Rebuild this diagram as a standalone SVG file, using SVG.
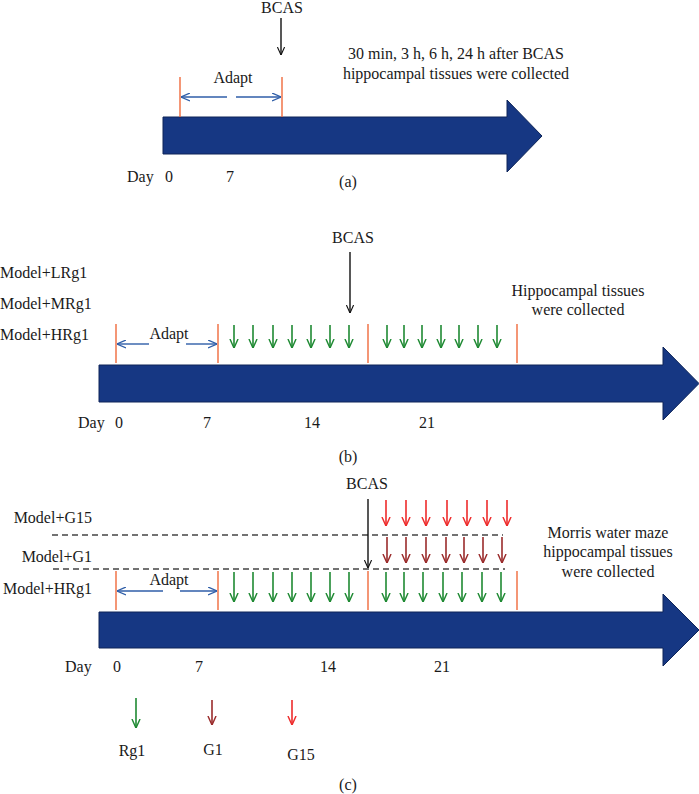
<svg xmlns="http://www.w3.org/2000/svg" width="699" height="794" viewBox="0 0 699 794">
<style>
text{font-family:"Liberation Serif","Times New Roman",serif;font-size:16px;fill:#1a1a1a}
.c{text-anchor:middle}
.e{text-anchor:end}
.big{fill:#163783;stroke:#0e2558;stroke-width:1}
.or{stroke:#f06a3c;stroke-width:1.4}
.bl{stroke:#2f5ea8;stroke-width:1.4;fill:none}
.bk{stroke:#111;stroke-width:1.4}
.gr{stroke:#1f8a33;stroke-width:1.6}
.rd{stroke:#ee2b2b;stroke-width:1.6}
.dr{stroke:#9a2b2b;stroke-width:1.6}
.da{stroke:#444;stroke-width:1.4;stroke-dasharray:6 4;fill:none}
</style>
<defs>
<marker id="mb" viewBox="0 0 10 10" refX="10" refY="5" markerWidth="9" markerHeight="9" markerUnits="userSpaceOnUse" orient="auto-start-reverse"><path d="M0,0.5 L10,5 L0,9.5" fill="none" stroke="#2f5ea8" stroke-width="1.4"/></marker>
<marker id="mk" viewBox="0 0 10 10" refX="10" refY="5" markerWidth="8" markerHeight="9" markerUnits="userSpaceOnUse" orient="auto"><path d="M0,0.5 L10,5 L0,9.5" fill="none" stroke="#111" stroke-width="1.4"/></marker>
<marker id="mg" viewBox="0 0 10 10" refX="10" refY="5" markerWidth="9" markerHeight="10" markerUnits="userSpaceOnUse" orient="auto"><path d="M0,0.5 L10,5 L0,9.5" fill="none" stroke="#1f8a33" stroke-width="1.6"/></marker>
<marker id="mr" viewBox="0 0 10 10" refX="10" refY="5" markerWidth="9" markerHeight="10" markerUnits="userSpaceOnUse" orient="auto"><path d="M0,0.5 L10,5 L0,9.5" fill="none" stroke="#ee2b2b" stroke-width="1.6"/></marker>
<marker id="md" viewBox="0 0 10 10" refX="10" refY="5" markerWidth="9" markerHeight="10" markerUnits="userSpaceOnUse" orient="auto"><path d="M0,0.5 L10,5 L0,9.5" fill="none" stroke="#9a2b2b" stroke-width="1.6"/></marker>
</defs>

<!-- Panel (a) -->
<g id="panel-a">
<polygon class="big" points="163,117 507,117 507,100 542,136 507,172 507,154 163,154"/>
<text class="c" x="282" y="13">BCAS</text>
<text class="c" x="233" y="83">Adapt</text>
<text class="c" x="456" y="59">30 min, 3 h, 6 h, 24 h after BCAS</text>
<text class="c" x="456" y="79">hippocampal tissues were collected</text>
<text x="127" y="182">Day</text>
<text class="c" x="169" y="182">0</text>
<text class="c" x="230" y="182">7</text>
<text class="c" x="348" y="187">(a)</text>
</g>

<!-- Panel (b) -->
<g id="panel-b">
<polygon class="big" points="99,365 663,365 663,347 699,383.5 663,420 663,402 99,402"/>
<text x="0" y="278">Model+LRg1</text>
<text x="0" y="309">Model+MRg1</text>
<text x="0" y="340">Model+HRg1</text>
<text class="c" x="353" y="243">BCAS</text>
<text class="c" x="169" y="339">Adapt</text>
<text class="c" x="578" y="296">Hippocampal tissues</text>
<text class="c" x="578" y="315">were collected</text>
<text x="78" y="428">Day</text>
<text class="c" x="119" y="428">0</text>
<text class="c" x="207" y="428">7</text>
<text class="c" x="312" y="428">14</text>
<text class="c" x="427" y="428">21</text>
<text class="c" x="348" y="462">(b)</text>
</g>

<!-- Panel (c) -->
<g id="panel-c">
<polygon class="big" points="99,612 663,612 663,594 699,630 663,666 663,648 99,648"/>
<text class="e" x="92" y="523">Model+G15</text>
<text class="e" x="92" y="562">Model+G1</text>
<text class="e" x="92" y="594">Model+HRg1</text>
<text class="c" x="367" y="489">BCAS</text>
<text class="c" x="169" y="585">Adapt</text>
<text class="c" x="608" y="538">Morris water maze</text>
<text class="c" x="608" y="557">hippocampal tissues</text>
<text class="c" x="608" y="577">were collected</text>
<text x="65" y="672">Day</text>
<text class="c" x="117" y="672">0</text>
<text class="c" x="199" y="672">7</text>
<text class="c" x="328" y="672">14</text>
<text class="c" x="442" y="672">21</text>
<text class="c" x="132" y="756">Rg1</text>
<text class="c" x="213" y="755">G1</text>
<text class="c" x="301" y="760">G15</text>
<text class="c" x="348" y="790">(c)</text>
</g>

<!-- Connectors -->
<g id="connectors">
<!-- (a) -->
<line class="bk" x1="281" y1="18" x2="281" y2="55" marker-end="url(#mk)"/>
<line class="or" x1="180" y1="77" x2="180" y2="117"/>
<line class="or" x1="282" y1="77" x2="282" y2="117"/>
<line class="bl" x1="227" y1="97" x2="181" y2="97" marker-end="url(#mb)"/>
<line class="bl" x1="236" y1="97" x2="281" y2="97" marker-end="url(#mb)"/>
<!-- (b) -->
<line class="bk" x1="350" y1="252" x2="350" y2="313" marker-end="url(#mk)"/>
<line class="or" x1="116" y1="324" x2="116" y2="363"/>
<line class="or" x1="218" y1="324" x2="218" y2="363"/>
<line class="or" x1="368" y1="324" x2="368" y2="363"/>
<line class="or" x1="517" y1="324" x2="517" y2="363"/>
<line class="bl" x1="149" y1="344" x2="117" y2="344" marker-end="url(#mb)"/>
<line class="bl" x1="186" y1="344" x2="217" y2="344" marker-end="url(#mb)"/>
<g marker-end="url(#mg)">
<line class="gr" x1="234" y1="325" x2="234" y2="348"/>
<line class="gr" x1="253" y1="325" x2="253" y2="348"/>
<line class="gr" x1="273" y1="325" x2="273" y2="348"/>
<line class="gr" x1="292" y1="325" x2="292" y2="348"/>
<line class="gr" x1="311" y1="325" x2="311" y2="348"/>
<line class="gr" x1="330" y1="325" x2="330" y2="348"/>
<line class="gr" x1="349" y1="325" x2="349" y2="348"/>
<line class="gr" x1="387" y1="325" x2="387" y2="348"/>
<line class="gr" x1="404" y1="325" x2="404" y2="348"/>
<line class="gr" x1="422" y1="325" x2="422" y2="348"/>
<line class="gr" x1="441" y1="325" x2="441" y2="348"/>
<line class="gr" x1="459" y1="325" x2="459" y2="348"/>
<line class="gr" x1="478" y1="325" x2="478" y2="348"/>
<line class="gr" x1="497" y1="325" x2="497" y2="348"/>
</g>
<!-- (c) -->
<line class="da" x1="52" y1="535" x2="503" y2="535"/>
<line class="da" x1="53" y1="569" x2="505" y2="569"/>
<line class="bk" x1="368" y1="499" x2="368" y2="568" marker-end="url(#mk)"/>
<line class="or" x1="116" y1="571" x2="116" y2="610"/>
<line class="or" x1="218" y1="571" x2="218" y2="610"/>
<line class="or" x1="368" y1="571" x2="368" y2="610"/>
<line class="or" x1="517" y1="571" x2="517" y2="610"/>
<line class="bl" x1="163" y1="591" x2="117" y2="591" marker-end="url(#mb)"/>
<line class="bl" x1="180" y1="591" x2="217" y2="591" marker-end="url(#mb)"/>
<g marker-end="url(#mg)">
<line class="gr" x1="234" y1="572" x2="234" y2="602"/>
<line class="gr" x1="253" y1="572" x2="253" y2="602"/>
<line class="gr" x1="273" y1="572" x2="273" y2="602"/>
<line class="gr" x1="292" y1="572" x2="292" y2="602"/>
<line class="gr" x1="311" y1="572" x2="311" y2="602"/>
<line class="gr" x1="330" y1="572" x2="330" y2="602"/>
<line class="gr" x1="349" y1="572" x2="349" y2="602"/>
<line class="gr" x1="386" y1="572" x2="386" y2="602"/>
<line class="gr" x1="404" y1="572" x2="404" y2="602"/>
<line class="gr" x1="423" y1="572" x2="423" y2="602"/>
<line class="gr" x1="443" y1="572" x2="443" y2="602"/>
<line class="gr" x1="462" y1="572" x2="462" y2="602"/>
<line class="gr" x1="482" y1="572" x2="482" y2="602"/>
<line class="gr" x1="501" y1="572" x2="501" y2="602"/>
</g>
<g marker-end="url(#mr)">
<line class="rd" x1="386" y1="500" x2="386" y2="526"/>
<line class="rd" x1="406" y1="500" x2="406" y2="526"/>
<line class="rd" x1="426" y1="500" x2="426" y2="526"/>
<line class="rd" x1="447" y1="500" x2="447" y2="526"/>
<line class="rd" x1="467" y1="500" x2="467" y2="526"/>
<line class="rd" x1="487" y1="500" x2="487" y2="526"/>
<line class="rd" x1="507" y1="500" x2="507" y2="526"/>
</g>
<g marker-end="url(#md)">
<line class="dr" x1="387" y1="537" x2="387" y2="563"/>
<line class="dr" x1="406" y1="537" x2="406" y2="563"/>
<line class="dr" x1="426" y1="537" x2="426" y2="563"/>
<line class="dr" x1="446" y1="537" x2="446" y2="563"/>
<line class="dr" x1="464" y1="537" x2="464" y2="563"/>
<line class="dr" x1="483" y1="537" x2="483" y2="563"/>
<line class="dr" x1="502" y1="537" x2="502" y2="563"/>
</g>
<!-- legend -->
<line class="gr" x1="136" y1="698" x2="136" y2="728" marker-end="url(#mg)"/>
<line class="dr" x1="212" y1="700" x2="212" y2="725" marker-end="url(#md)"/>
<line class="rd" x1="292" y1="700" x2="292" y2="725" marker-end="url(#mr)"/>
</g>
</svg>
